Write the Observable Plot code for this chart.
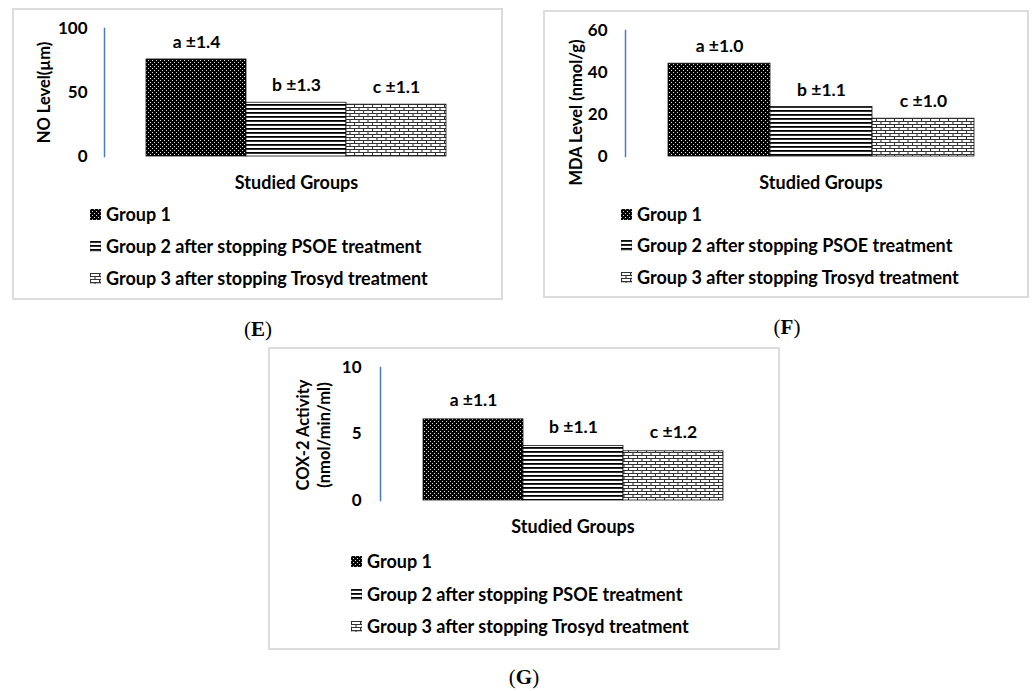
<!DOCTYPE html>
<html>
<head>
<meta charset="utf-8">
<script src="https://cdn.jsdelivr.net/npm/d3@7"></script>
<script src="https://cdn.jsdelivr.net/npm/@observablehq/plot@0.6"></script>
<style>
  html, body { margin: 0; padding: 0; background: #fff; }
  #root { position: relative; width: 1035px; height: 691px; background: #fff; overflow: hidden; font-family: Lato, "Open Sans", sans-serif; }
  .box { position: absolute; border: 2px solid #dcdcdc; box-sizing: border-box; }
  .plotwrap { position: absolute; }
  .legrow { position: absolute; display: flex; align-items: center; font-weight: bold; font-size: 18px; color: #000; white-space: nowrap; line-height: 1; }
  .legrow svg { margin-right: 5px; }
  .panel-label { position: absolute; font-family: "Liberation Serif", "Times New Roman", serif; font-size: 21px; color: #000; transform: translate(-50%, -50%); white-space: nowrap; }
</style>
</head>
<body>
<svg width="0" height="0" style="position:absolute">
  <defs>
    <pattern id="pat1" width="4" height="4" patternUnits="userSpaceOnUse">
      <rect width="4" height="4" fill="#000"/>
      <rect x="0" y="0" width="1" height="1" fill="#ddd"/>
      <rect x="2" y="2" width="1" height="1" fill="#ddd"/>
    </pattern>
    <pattern id="pat2" width="4" height="4" patternUnits="userSpaceOnUse">
      <rect width="4" height="4" fill="#fff"/>
      <rect x="0" y="0" width="4" height="1.8" fill="#000"/>
    </pattern>
    <pattern id="pat3" width="9" height="6" patternUnits="userSpaceOnUse">
      <rect width="9" height="6" fill="#fff"/>
      <path d="M0,0.5H9M0,3.5H9M0.5,0V3.5M5,3.5V6" stroke="#333" stroke-width="1.1" fill="none"/>
    </pattern>
  </defs>
</svg>
<div id="root"></div>
<script>
// ---------- data ----------
const groups = ["Group 1", "Group 2 after stopping PSOE treatment", "Group 3 after stopping Trosyd treatment"];
const groupFills = ["url(#pat1)", "url(#pat2)", "url(#pat3)"];

const noValues = [75.8, 42, 40.5];
const noLabels = ["a ±1.4", "b ±1.3", "c ±1.1"];
const noTicks = [0, 50, 100];

const mdaValues = [44.2, 23.6, 18];
const mdaLabels = ["a ±1.0", "b ±1.1", "c ±1.0"];
const mdaTicks = [0, 20, 40, 60];

const coxValues = [6.1, 4.1, 3.7];
const coxLabels = ["a ±1.1", "b ±1.1", "c ±1.2"];
const coxTicks = [0, 5, 10];

const xTitle = "Studied Groups";

// ---------- layout ----------
const panels = [
  { id: "E", values: noValues, labels: noLabels, ticks: noTicks, ymax: 100, ytitle: "NO Level(µm)",
    box: {left: 12, top: 8, width: 491, height: 292},
    mLeft: 92, mRight: 15, mTop: 20, mBottom: 52, tickPad: 17, titleDx: -61, titleDy: 0, labelDy: -17,
    legend: {left: 90, rows: [214, 246, 278]}, tag: {x: 258, y: 329} },
  { id: "F", values: mdaValues, labels: mdaLabels, ticks: mdaTicks, ymax: 60, ytitle: "MDA Level (nmol/g)",
    box: {left: 543, top: 10, width: 486, height: 288},
    mLeft: 82, mRight: 13, mTop: 20, mBottom: 54, tickPad: 18, titleDx: -50, titleDy: 19, labelDy: -17,
    legend: {left: 621, rows: [214, 245, 277]}, tag: {x: 787, y: 327} },
  { id: "G", values: coxValues, labels: coxLabels, ticks: coxTicks, ymax: 10, ytitle: "COX-2 Activity\n(nmol/min/ml)",
    box: {left: 268, top: 347, width: 512, height: 303},
    mLeft: 112, mRight: 15, mTop: 20, mBottom: 47, tickPad: 19, titleDx: -68, titleDy: 1, labelDy: -19,
    legend: {left: 351, rows: [561, 594, 626]}, tag: {x: 524, y: 677} }
];

const root = document.getElementById("root");

for (const p of panels) {
  const data = groups.map((g, i) => ({group: g, value: p.values[i], label: p.labels[i], fill: groupFills[i]}));

  const box = document.createElement("div");
  box.className = "box";
  Object.assign(box.style, {left: p.box.left + "px", top: p.box.top + "px", width: p.box.width + "px", height: p.box.height + "px"});
  root.appendChild(box);

  const chart = Plot.plot({
    width: p.box.width,
    height: 200,
    marginLeft: p.mLeft,
    marginRight: p.mRight,
    marginTop: p.mTop,
    marginBottom: p.mBottom,
    style: {fontFamily: "Lato, 'Open Sans', sans-serif", fontSize: "17px", fontWeight: "bold", color: "#000", background: "transparent", overflow: "visible"},
    x: {domain: groups, paddingInner: 0, paddingOuter: 0.41, axis: null},
    y: {domain: [0, p.ymax], axis: null},
    color: {type: "identity"},
    marks: [
      Plot.barY(data, {x: "group", y: "value", fill: "fill", stroke: "#111", strokeWidth: 0.8}),
      Plot.frame({anchor: "left", stroke: "#4a7bd0", strokeWidth: 1.5}),
      Plot.axisY({ticks: p.ticks, tickSize: 0, tickPadding: p.tickPad, label: null, fontSize: 17, fontWeight: "bold"}),
      Plot.text(data, {x: "group", y: "value", text: "label", dy: p.labelDy, fontSize: 17.5, fontWeight: "bold", fill: "#000"}),
      Plot.text([p.ytitle], {frameAnchor: "left", text: d => d, rotate: -90, textAnchor: "middle", dx: p.titleDx, dy: p.titleDy, fontSize: 16.5, fontWeight: "bold", fill: "#000", lineHeight: 1.3}),
      Plot.text([xTitle], {frameAnchor: "bottom", text: d => d, dy: 32, fontSize: 18, fontWeight: "bold", fill: "#000"})
    ]
  });
  const wrap = document.createElement("div");
  wrap.className = "plotwrap";
  Object.assign(wrap.style, {left: p.box.left + "px", top: p.box.top + "px"});
  wrap.appendChild(chart);
  root.appendChild(wrap);

  // legend
  groups.forEach((g, i) => {
    const row = document.createElement("div");
    row.className = "legrow";
    row.style.left = p.legend.left + "px";
    row.style.top = (p.legend.rows[i] - 9) + "px";
    row.style.height = "18px";
    row.innerHTML = `<svg width="11" height="11"><rect width="11" height="11" fill="${groupFills[i]}" stroke="#333" stroke-width="0.5"/></svg><span>${g}</span>`;
    root.appendChild(row);
  });

  const tag = document.createElement("div");
  tag.className = "panel-label";
  tag.style.left = p.tag.x + "px";
  tag.style.top = p.tag.y + "px";
  tag.innerHTML = `(<b>${p.id}</b>)`;
  root.appendChild(tag);
}
</script>
</body>
</html>
